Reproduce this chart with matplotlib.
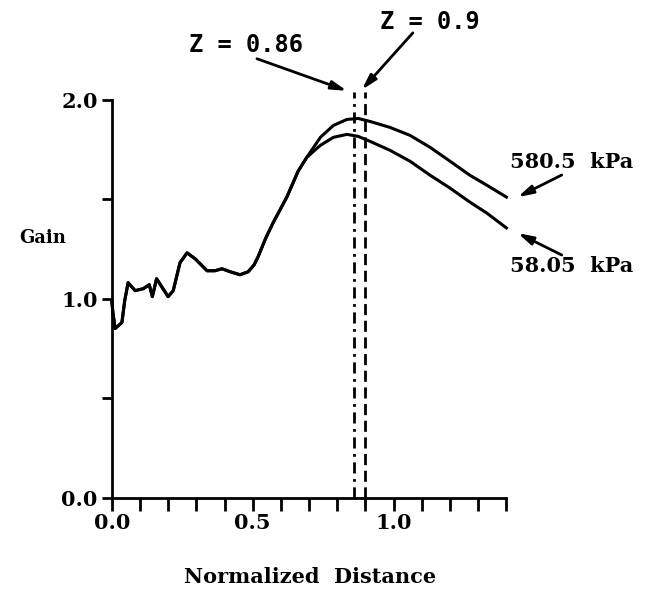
import numpy as np
import matplotlib.pyplot as plt
from matplotlib.ticker import MultipleLocator, FixedLocator

# gain along the normalized distance, common part of both pressures
dist_common = [0.000, 0.004, 0.012, 0.036, 0.046, 0.058, 0.083, 0.112, 0.133, 0.144,
               0.159, 0.177, 0.200, 0.218, 0.242, 0.267, 0.296, 0.338, 0.366, 0.391,
               0.420, 0.455, 0.484, 0.505, 0.519, 0.545, 0.572, 0.621, 0.661, 0.692]
gain_common = [0.99, 0.93, 0.85, 0.88, 0.99, 1.08, 1.04, 1.05, 1.07, 1.01,
               1.10, 1.06, 1.01, 1.04, 1.18, 1.23, 1.20, 1.14, 1.14, 1.15,
               1.135, 1.12, 1.135, 1.17, 1.21, 1.30, 1.38, 1.51, 1.64, 1.71]

# branches after the split
dist_branch = [0.692, 0.740, 0.786, 0.834, 0.874, 0.916, 0.987, 1.058, 1.129, 1.200,
               1.270, 1.330, 1.400]
gain_580 = [1.71, 1.81, 1.87, 1.90, 1.905, 1.89, 1.86, 1.82, 1.76, 1.69,
            1.62, 1.57, 1.51]
gain_58 = [1.71, 1.77, 1.81, 1.825, 1.815, 1.79, 1.745, 1.69, 1.62, 1.555,
           1.485, 1.43, 1.355]

z_lines = [0.86, 0.9]
z_labels = ['Z = 0.86', 'Z = 0.9']
pressure_labels = ['580.5  kPa', '58.05  kPa']

plt.rcParams['font.family'] = 'DejaVu Serif'
plt.rcParams['font.weight'] = 'bold'

fig = plt.figure(figsize=(6.46, 5.89), dpi=100)
ax = fig.add_axes([0.173, 0.155, 0.611, 0.676])

x_all = dist_common + dist_branch[1:]
ax.plot(x_all, gain_common + gain_580[1:], color='black', lw=2.2, clip_on=False)
ax.plot(x_all, gain_common + gain_58[1:], color='black', lw=2.2, clip_on=False)

# vertical markers for the two Z positions
ax.plot([z_lines[0], z_lines[0]], [0, 2.04], color='black', lw=2,
        linestyle=(0, (4, 2, 1, 2)), clip_on=False)
ax.plot([z_lines[1], z_lines[1]], [0, 2.04], color='black', lw=2,
        linestyle=(0, (4, 2)), clip_on=False)

ax.set_xlim(0, 1.4)
ax.set_ylim(0, 2.0)
for s in ['top', 'right']:
    ax.spines[s].set_visible(False)
for s in ['left', 'bottom']:
    ax.spines[s].set_linewidth(2)

ax.xaxis.set_major_locator(FixedLocator([0.0, 0.5, 1.0]))
ax.xaxis.set_minor_locator(MultipleLocator(0.1))
ax.yaxis.set_major_locator(FixedLocator([0.0, 1.0, 2.0]))
ax.yaxis.set_minor_locator(MultipleLocator(0.5))
ax.set_xticklabels(['0.0', '0.5', '1.0'])
ax.set_yticklabels(['0.0', '1.0', '2.0'])
ax.tick_params(axis='both', which='both', direction='out', width=2,
               labelsize=15, color='black')
ax.tick_params(axis='x', which='both', length=9, pad=2)
ax.tick_params(axis='y', which='both', length=7, pad=3)

ax.set_xlabel('Normalized  Distance', fontsize=15, fontweight='bold', va='center')
ax.xaxis.set_label_coords(0.502, -0.199)
ax.set_ylabel('Gain', fontsize=13, fontweight='bold', rotation=0, va='center')
ax.yaxis.set_label_coords(-0.176, 0.652)

arrow = dict(arrowstyle='-|>,head_length=0.9,head_width=0.25', color='black',
             lw=2, shrinkA=0, shrinkB=0)
ax.annotate('', xy=(0.834, 2.044), xytext=(0.515, 2.205), arrowprops=arrow,
            annotation_clip=False)
ax.text(0.476, 2.275, z_labels[0], ha='center', va='center', fontsize=17,
        family='DejaVu Sans Mono', fontweight='bold')
ax.annotate('', xy=(0.887, 2.049), xytext=(1.068, 2.335), arrowprops=arrow,
            annotation_clip=False)
ax.text(1.128, 2.39, z_labels[1], ha='center', va='center', fontsize=17,
        family='DejaVu Sans Mono', fontweight='bold')

ax.annotate('', xy=(1.44, 1.51), xytext=(1.596, 1.621), arrowprops=arrow,
            annotation_clip=False)
ax.text(1.632, 1.687, pressure_labels[0], ha='center', va='center', fontsize=15)
ax.annotate('', xy=(1.44, 1.329), xytext=(1.596, 1.219), arrowprops=arrow,
            annotation_clip=False)
ax.text(1.632, 1.164, pressure_labels[1], ha='center', va='center', fontsize=15)

fig.savefig('out.png', dpi=100)
